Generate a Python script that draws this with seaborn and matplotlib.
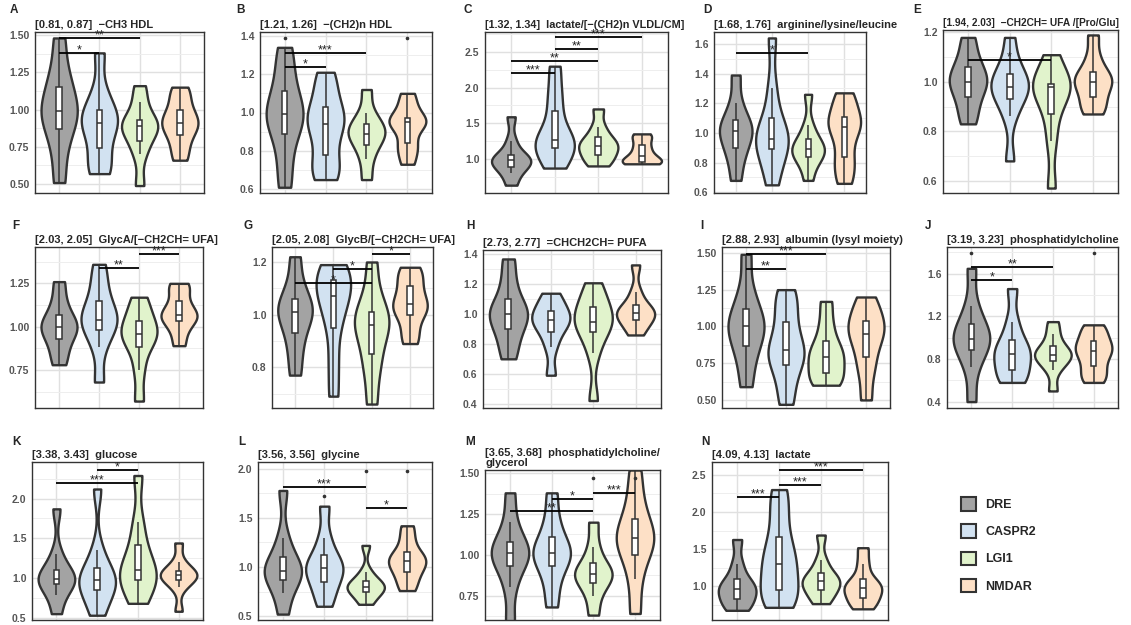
import numpy as np
import pandas as pd
import matplotlib
matplotlib.use("Agg")
import matplotlib.pyplot as plt
import seaborn as sns
from matplotlib.patches import Patch
from matplotlib.ticker import AutoMinorLocator

groups = ["DRE", "CASPR2", "LGI1", "NMDAR"]
colors = ["#a3a3a3", "#d2e2f1", "#e1f3cc", "#fde0c6"]

letters = list("ABCDEFGHIJKLMN")
titles = [
    "[0.81, 0.87]  \u2212CH3 HDL",
    "[1.21, 1.26]  \u2212(CH2)n HDL",
    "[1.32, 1.34]  lactate/[\u2212(CH2)n VLDL/CM]",
    "[1.68, 1.76]  arginine/lysine/leucine",
    "[1.94, 2.03]  \u2212CH2CH= UFA /[Pro/Glu]",
    "[2.03, 2.05]  GlycA/[\u2212CH2CH= UFA]",
    "[2.05, 2.08]  GlycB/[\u2212CH2CH= UFA]",
    "[2.73, 2.77]  =CHCH2CH= PUFA",
    "[2.88, 2.93]  albumin (lysyl moiety)",
    "[3.19, 3.23]  phosphatidylcholine",
    "[3.38, 3.43]  glucose",
    "[3.56, 3.56]  glycine",
    "[3.65, 3.68]  phosphatidylcholine/\nglycerol",
    "[4.09, 4.13]  lactate",
]

# values: min, low tail, q1, .., median, .., q3, high tail, max
dre = [
    [0.51, 0.72, 0.87, 0.94, 0.99, 1.06, 1.15, 1.27, 1.48],
    [0.61, 0.76, 0.89, 0.95, 0.99, 1.04, 1.11, 1.22, 1.34],
    [0.63, 0.80, 0.89, 0.95, 0.98, 1.01, 1.05, 1.25, 1.59],
    [0.68, 0.82, 0.90, 0.97, 1.01, 1.05, 1.09, 1.20, 1.39],
    [0.83, 0.89, 0.94, 0.98, 1.00, 1.03, 1.06, 1.11, 1.18],
    [0.78, 0.86, 0.93, 0.97, 1.00, 1.03, 1.07, 1.15, 1.26],
    [0.77, 0.86, 0.93, 0.98, 1.01, 1.03, 1.06, 1.12, 1.22],
    [0.70, 0.81, 0.90, 0.96, 1.00, 1.04, 1.10, 1.22, 1.37],
    [0.59, 0.76, 0.87, 0.95, 1.00, 1.05, 1.12, 1.25, 1.49],
    [0.40, 0.72, 0.88, 0.95, 0.99, 1.05, 1.13, 1.30, 1.65],
    [0.55, 0.78, 0.92, 0.96, 0.99, 1.03, 1.10, 1.30, 1.87],
    [0.52, 0.74, 0.87, 0.93, 0.96, 1.02, 1.10, 1.30, 1.78],
    [0.58, 0.80, 0.93, 0.98, 1.01, 1.04, 1.08, 1.20, 1.38],
    [0.68, 0.75, 0.83, 0.92, 0.97, 1.02, 1.10, 1.30, 1.63],
]
caspr2 = [
    [0.57, 0.62, 0.74, 0.86, 0.91, 0.95, 1.00, 1.12, 1.38],
    [0.65, 0.70, 0.78, 0.88, 0.94, 0.98, 1.03, 1.12, 1.21],
    [0.87, 1.00, 1.15, 1.22, 1.26, 1.40, 1.67, 1.95, 2.30],
    [0.65, 0.78, 0.89, 0.93, 0.96, 1.02, 1.10, 1.30, 1.64],
    [0.68, 0.86, 0.93, 0.96, 0.98, 1.00, 1.03, 1.08, 1.18],
    [0.68, 0.88, 0.98, 1.02, 1.04, 1.09, 1.15, 1.25, 1.36],
    [0.69, 0.82, 0.95, 1.02, 1.07, 1.10, 1.13, 1.17, 1.19],
    [0.59, 0.78, 0.88, 0.93, 0.96, 0.99, 1.02, 1.08, 1.14],
    [0.47, 0.62, 0.74, 0.80, 0.84, 0.92, 1.03, 1.15, 1.25],
    [0.58, 0.62, 0.70, 0.80, 0.85, 0.90, 0.98, 1.15, 1.46],
    [0.53, 0.70, 0.85, 0.93, 0.97, 1.02, 1.12, 1.35, 2.12],
    [0.60, 0.74, 0.85, 0.94, 0.99, 1.04, 1.12, 1.30, 1.62],
    [0.68, 0.82, 0.93, 0.98, 1.01, 1.05, 1.11, 1.22, 1.38],
    [0.72, 0.85, 0.95, 1.15, 1.30, 1.45, 1.67, 2.00, 2.30],
]
lgi1 = [
    [0.49, 0.70, 0.79, 0.86, 0.89, 0.91, 0.93, 1.05, 1.16],
    [0.65, 0.76, 0.83, 0.87, 0.89, 0.92, 0.94, 1.00, 1.12],
    [0.90, 0.98, 1.06, 1.13, 1.18, 1.24, 1.30, 1.45, 1.70],
    [0.68, 0.79, 0.84, 0.87, 0.89, 0.92, 0.96, 1.05, 1.26],
    [0.57, 0.76, 0.87, 0.94, 0.98, 0.985, 0.99, 1.04, 1.11],
    [0.57, 0.75, 0.88, 0.93, 0.96, 0.99, 1.03, 1.10, 1.17],
    [0.66, 0.78, 0.85, 0.92, 0.96, 0.985, 1.01, 1.08, 1.20],
    [0.42, 0.74, 0.88, 0.92, 0.95, 1.00, 1.05, 1.12, 1.21],
    [0.60, 0.63, 0.68, 0.75, 0.79, 0.84, 0.90, 1.02, 1.17],
    [0.50, 0.70, 0.78, 0.82, 0.84, 0.87, 0.92, 1.03, 1.15],
    [0.68, 0.85, 0.97, 1.03, 1.10, 1.22, 1.41, 1.70, 2.29],
    [0.62, 0.70, 0.75, 0.78, 0.80, 0.83, 0.86, 0.95, 1.22],
    [0.63, 0.75, 0.83, 0.86, 0.88, 0.91, 0.95, 1.05, 1.20],
    [0.77, 0.88, 0.95, 1.03, 1.07, 1.11, 1.18, 1.35, 1.69],
]
nmdar = [
    [0.66, 0.75, 0.83, 0.88, 0.91, 0.95, 1.00, 1.08, 1.15],
    [0.73, 0.80, 0.84, 0.92, 0.95, 0.96, 0.97, 1.04, 1.10],
    [0.93, 0.94, 0.95, 1.00, 1.04, 1.12, 1.20, 1.30, 1.35],
    [0.66, 0.76, 0.84, 0.96, 1.04, 1.07, 1.11, 1.20, 1.27],
    [0.87, 0.90, 0.94, 0.98, 1.00, 1.02, 1.04, 1.10, 1.19],
    [0.89, 0.97, 1.03, 1.05, 1.07, 1.10, 1.15, 1.22, 1.25],
    [0.89, 0.94, 1.00, 1.02, 1.04, 1.07, 1.11, 1.15, 1.18],
    [0.86, 0.92, 0.96, 0.99, 1.01, 1.03, 1.06, 1.15, 1.33],
    [0.50, 0.68, 0.79, 0.89, 0.95, 1.00, 1.04, 1.12, 1.20],
    [0.58, 0.65, 0.73, 0.82, 0.87, 0.92, 0.97, 1.05, 1.12],
    [0.58, 0.88, 0.97, 1.01, 1.04, 1.06, 1.09, 1.20, 1.44],
    [0.76, 0.86, 0.95, 1.01, 1.06, 1.10, 1.15, 1.28, 1.42],
    [0.64, 0.85, 1.00, 1.06, 1.10, 1.15, 1.22, 1.35, 1.52],
    [0.70, 0.78, 0.85, 0.94, 0.98, 1.03, 1.10, 1.30, 1.52],
]

yticks = [
    [0.5, 0.75, 1.0, 1.25, 1.5], [0.6, 0.8, 1.0, 1.2, 1.4], [1.0, 1.5, 2.0, 2.5],
    [0.6, 0.8, 1.0, 1.2, 1.4, 1.6], [0.6, 0.8, 1.0, 1.2], [0.75, 1.0, 1.25],
    [0.8, 1.0, 1.2], [0.4, 0.6, 0.8, 1.0, 1.2, 1.4], [0.5, 0.75, 1.0, 1.25, 1.5],
    [0.4, 0.8, 1.2, 1.6], [0.5, 1.0, 1.5, 2.0], [0.5, 1.0, 1.5, 2.0],
    [0.75, 1.0, 1.25, 1.5], [1.0, 1.5, 2.0, 2.5],
]
tick_decimals = [2, 1, 1, 1, 1, 2, 1, 1, 2, 1, 1, 1, 2, 1]
ylims = [
    (0.44, 1.52), (0.58, 1.42), (0.52, 2.78), (0.595, 1.68), (0.55, 1.21),
    (0.53, 1.46), (0.645, 1.257), (0.37, 1.43), (0.445, 1.54), (0.34, 1.85),
    (0.47, 2.46), (0.46, 2.07), (0.60, 1.52), (0.55, 2.67),
]

# significance bars: (from group, to group, height, label)
brackets = [
    [(0, 1, 1.38, "*"), (0, 2, 1.48, "**")],
    [(0, 1, 1.24, "*"), (0, 2, 1.31, "***")],
    [(0, 1, 2.20, "***"), (0, 2, 2.37, "**"), (1, 2, 2.54, "**"), (1, 3, 2.71, "***")],
    [(0, 2, 1.54, "*")],
    [(0, 2, 1.09, "*")],
    [(1, 2, 1.34, "**"), (2, 3, 1.42, "***")],
    [(0, 2, 1.12, "*"), (1, 2, 1.175, "*"), (2, 3, 1.23, "*")],
    [],
    [(0, 1, 1.39, "**"), (0, 2, 1.49, "***")],
    [(0, 1, 1.54, "*"), (0, 2, 1.66, "**")],
    [(0, 2, 2.19, "***"), (1, 2, 2.36, "*")],
    [(0, 2, 1.82, "***"), (2, 3, 1.60, "*")],
    [(0, 2, 1.27, "**"), (1, 2, 1.34, "*"), (2, 3, 1.38, "***")],
    [(0, 1, 2.20, "***"), (1, 2, 2.36, "***"), (1, 3, 2.56, "***")],
]
# small "." marks near the top of some panels
dots = [
    [], [(0, 1.39), (3, 1.39)], [], [], [], [], [], [], [],
    [(0, 1.79), (3, 1.79)], [], [(1, 1.72), (2, 1.98), (3, 1.98)],
    [(2, 1.47), (3, 1.47)], [],
]

# panel boxes in pixels: left, top, right, bottom
axes_px = [
    (35, 32, 204, 193), (260, 32, 432, 193), (485, 32, 668, 193),
    (714, 32, 866, 193), (943, 30, 1118, 193),
    (35, 247, 203, 408), (272, 247, 433, 408), (483, 250, 661, 408),
    (722, 247, 890, 408), (947, 247, 1118, 408),
    (32, 462, 203, 620), (258, 462, 432, 620), (485, 470, 660, 620),
    (712, 462, 888, 620),
]
letter_px = [
    (10, 10), (236, 10), (463, 10), (703, 10), (913, 10),
    (12, 226), (243, 226), (466, 226), (700, 226), (925, 226),
    (12, 442), (238, 442), (465, 442), (701, 442),
]
title_sizes = [8, 8, 7.8, 8, 7.3, 8, 8, 8, 8, 8, 8, 8, 8, 8]

sns.set_style("white")
plt.rcParams["font.family"] = ["Liberation Sans", "DejaVu Sans"]

W, H = 1131, 625
fig = plt.figure(figsize=(W / 100, H / 100), dpi=100)

for k in range(14):
    l, t, r, b = axes_px[k]
    ax = fig.add_axes([l / W, 1 - b / H, (r - l) / W, (b - t) / H])

    vals = [dre[k], caspr2[k], lgi1[k], nmdar[k]]
    df = pd.DataFrame({
        "group": np.repeat(groups, [len(v) for v in vals]),
        "value": np.concatenate(vals),
    })

    sns.violinplot(data=df, x="group", y="value", hue="group", order=groups,
                   hue_order=groups, palette=colors, cut=0, width=0.9,
                   bw_adjust=0.65, linewidth=1.7, linecolor="#333333",
                   inner=None, saturation=1, legend=False, ax=ax)
    sns.boxplot(data=df, x="group", y="value", order=groups, color="white",
                width=0.14, showfliers=False, showcaps=False, linewidth=1.1,
                linecolor="#333333", saturation=1, ax=ax)

    for i, j, y, lab in brackets[k]:
        ax.plot([i, j], [y, y], color="black", lw=1.3, solid_capstyle="butt", zorder=5)
        ax.annotate(lab, ((i + j) / 2, y), xytext=(0, -2.5), textcoords="offset points",
                    ha="center", va="bottom", fontsize=9, color="#222222", zorder=6)
    for i, y in dots[k]:
        ax.plot(i, y, marker="o", ms=1.6, color="#333333", zorder=5)

    ax.set_xlim(-0.6, 3.6)
    ax.set_ylim(*ylims[k])
    ax.set_xticks(range(4))
    ax.set_yticks(yticks[k])
    ax.set_yticklabels([f"{v:.{tick_decimals[k]}f}" for v in yticks[k]])
    ax.yaxis.set_minor_locator(AutoMinorLocator(2))
    ax.set_xlabel("")
    ax.set_ylabel("")
    ax.set_axisbelow(True)
    ax.grid(True, which="major", color="#e0e0e0", lw=1.0)
    ax.grid(True, which="minor", axis="y", color="#eeeeee", lw=0.7)
    ax.tick_params(axis="x", length=0, labelbottom=False)
    ax.tick_params(axis="y", which="major", length=2.5, width=0.8, color="#333333",
                   labelsize=7.5, labelcolor="#555555", pad=1.5)
    ax.tick_params(axis="y", which="minor", length=0)
    for lab in ax.get_yticklabels():
        lab.set_fontweight("bold")
    for sp in ax.spines.values():
        sp.set_color("#333333")
        sp.set_linewidth(1.0)
        sp.set_visible(True)

    ax.set_title(titles[k], loc="left", fontweight="bold", fontsize=title_sizes[k],
                 pad=3, linespacing=1.0)
    lx, ly = letter_px[k]
    fig.text(lx / W, 1 - ly / H, letters[k], fontweight="bold", fontsize=8.5,
             ha="left", va="center")

handles = [Patch(facecolor=c, edgecolor="#333333", linewidth=1.5) for c in colors]
fig.legend(handles, groups, loc="upper left", bbox_to_anchor=(950 / W, 1 - 486 / H),
           frameon=False, handlelength=1.2, handleheight=1.3, handletextpad=0.7,
           labelspacing=1.05, prop={"weight": "bold", "size": 9})

fig.savefig("out.png", dpi=100)
